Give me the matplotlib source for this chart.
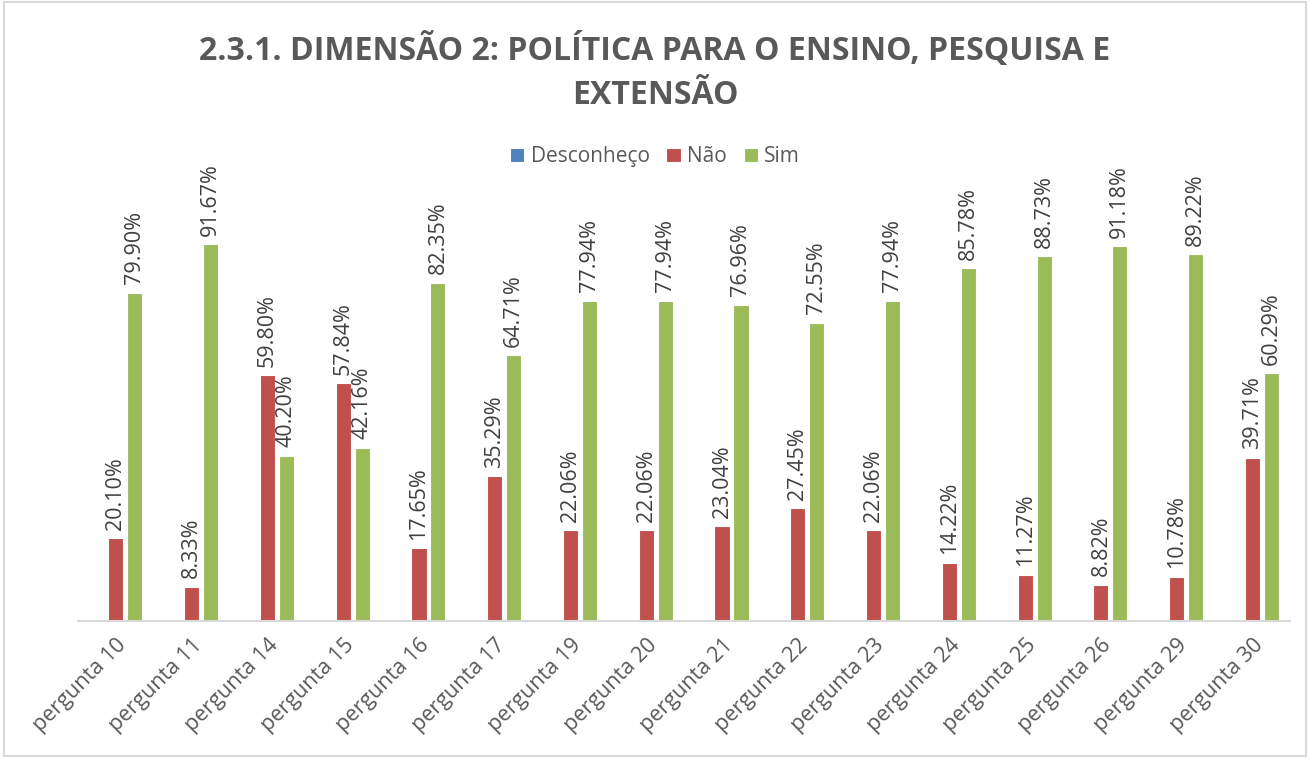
import matplotlib
matplotlib.use("Agg")
import matplotlib.pyplot as plt
import numpy as np
from matplotlib.patches import Rectangle

categories = ["pergunta 10", "pergunta 11", "pergunta 14", "pergunta 15", "pergunta 16",
              "pergunta 17", "pergunta 19", "pergunta 20", "pergunta 21", "pergunta 22",
              "pergunta 23", "pergunta 24", "pergunta 25", "pergunta 26", "pergunta 29",
              "pergunta 30"]
desconheco = [0, 0, 0, 0, 0, 0, 0, 0, 0, 0, 0, 0, 0, 0, 0, 0]
nao = [20.10, 8.33, 59.80, 57.84, 17.65, 35.29, 22.06, 22.06, 23.04, 27.45,
       22.06, 14.22, 11.27, 8.82, 10.78, 39.71]
sim = [79.90, 91.67, 40.20, 42.16, 82.35, 64.71, 77.94, 77.94, 76.96, 72.55,
       77.94, 85.78, 88.73, 91.18, 89.22, 60.29]

series = [("Desconheço", desconheco, "#4F81BD", False),
          ("Não", nao, "#C0504D", True),
          ("Sim", sim, "#9BBB59", True)]

plt.rcParams['font.family'] = ['Open Sans', 'DejaVu Sans']

fig = plt.figure(figsize=(13.1, 7.58), dpi=100)
ax = fig.add_axes([0.0595, 0.1807, 0.9255, 0.5423])

x = np.arange(len(categories))
width = 0.2
offsets = [-0.25, 0.0, 0.25]
for (name, vals, color, show), off in zip(series, offsets):
    v = np.array(vals) / 100.0
    ax.bar(x + off, v, width, color=color, edgecolor="white", linewidth=0.8, label=name)
    if show:
        for xi, vi in zip(x + off, v):
            ax.annotate(f"{vi*100:.2f}%", (xi, vi), xytext=(0, 6), textcoords="offset points",
                        rotation=90, ha="center", va="bottom", fontsize=15.5, color="#404040",
                        annotation_clip=False)

ax.set_xlim(-0.5, len(categories) - 0.5)
ax.set_ylim(0, 1.0)
ax.set_yticks([])
for s in ["top", "right", "left"]:
    ax.spines[s].set_visible(False)
ax.spines["bottom"].set_color("#d9d9d9")
ax.spines["bottom"].set_linewidth(1.5)
ax.set_xticks(x)
ax.set_xticklabels(categories, rotation=45, ha="right", rotation_mode="anchor",
                   fontsize=15.5, color="#595959")
ax.tick_params(axis="x", length=0, pad=10)

fig.text(0.5, 0.934, "2.3.1. DIMENSÃO 2: POLÍTICA PARA O ENSINO, PESQUISA E",
         ha="center", va="center", fontsize=23, fontweight="bold", color="#595959")
fig.text(0.5, 0.874, "EXTENSÃO", ha="center", va="center", fontsize=23,
         fontweight="bold", color="#595959")

leg = fig.legend(loc="center", bbox_to_anchor=(0.5, 0.793), ncol=3, frameon=False,
                 fontsize=15, handlelength=0.7, handleheight=0.7, columnspacing=0.8,
                 handletextpad=0.3)
for t in leg.get_texts():
    t.set_color("#595959")

fig.patches.append(Rectangle((0.003, 0.003), 0.994, 0.994, transform=fig.transFigure,
                             fill=False, edgecolor="#d9d9d9", linewidth=1.5))

fig.savefig("out.png", dpi=100, facecolor="white")
